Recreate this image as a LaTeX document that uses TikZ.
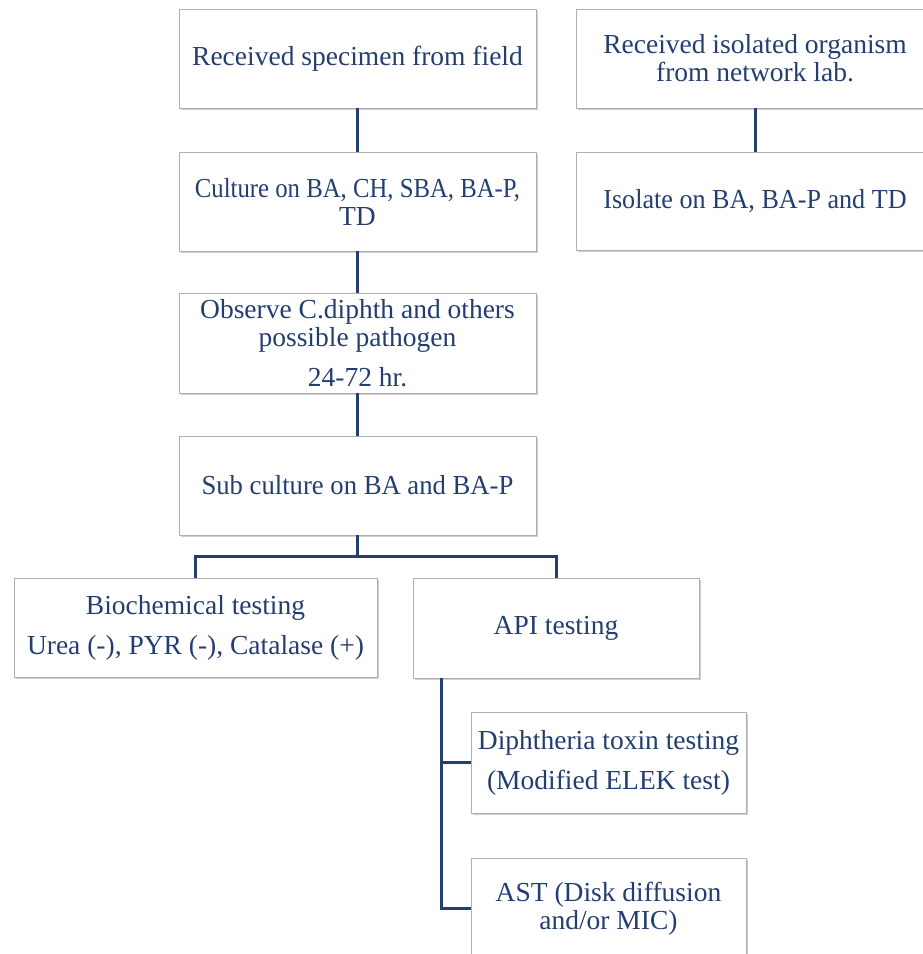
\documentclass[tikz,border=0pt]{standalone}
\usepackage{fontspec}
\setmainfont{Liberation Serif}
\usetikzlibrary{shadows}
\definecolor{ink}{RGB}{36,62,112}
\definecolor{frame}{RGB}{175,175,175}
\newcommand{\narrowed}[2]{{\addfontfeatures{FakeStretch=#1}#2}}
\begin{document}
\begin{tikzpicture}[x=1pt,y=-1pt,
  stepbox/.style={draw=frame, line width=0.9pt, fill=white, text=ink,
    align=center, inner sep=0pt, minimum height=99pt,
    font=\fontsize{27.5}{28}\selectfont,
    drop shadow={shadow xshift=1.5pt, shadow yshift=-2.2pt, opacity=0.35, fill=black!55}},
  link/.style={draw=ink, line width=3pt, line join=miter}]
\useasboundingbox (0,0) rectangle (923,954);
\clip (0,0) rectangle (923,954);

% main column
\node[stepbox, minimum width=357pt] (field) at (357.5,58.5) {Received specimen from field};
\node[stepbox, minimum width=357pt] (culture) at (357.5,201.5) {\narrowed{0.9}{Culture on BA, CH, SBA, BA-P,}\\TD};
\node[stepbox, minimum width=357pt, minimum height=100pt] (observe) at (357.5,343) {Observe C.diphth and others\\possible pathogen\\[12pt]24-72 hr.};
\node[stepbox, minimum width=357pt] (sub) at (357.5,485.5) {\narrowed{0.97}{Sub culture on BA and BA-P}};

% second level
\node[stepbox, minimum width=363pt] (biochem) at (195.5,627.5) {Biochemical testing\\[12pt]Urea (-), PYR (-), Catalase (+)};
\node[stepbox, minimum width=286pt, minimum height=100pt] (api) at (556,628) {API testing};

% API follow-up tests
\node[stepbox, minimum width=275pt, minimum height=101pt] (toxin) at (608.5,762.5) {Diphtheria toxin testing\\[12pt](Modified ELEK test)};
\node[stepbox, minimum width=275pt, minimum height=101pt] (ast) at (608.5,908.5) {AST (Disk diffusion\\and/or MIC)};

% network lab column
\node[stepbox, minimum width=358pt] (network) at (755,58.5) {Received isolated organism\\from network lab.};
\node[stepbox, minimum width=358pt, minimum height=98pt] (isolate) at (755,201) {\narrowed{0.95}{Isolate on BA, BA-P and TD}};

% connectors
\draw[link] (field.south) -- (culture.north);
\draw[link] (culture.south) -- (observe.north);
\draw[link] (observe.south) -- (sub.north);
\draw[link] (network.south) -- (isolate.north);
\coordinate (fork) at ([yshift=-21pt]sub.south);
\draw[link] (sub.south) -- (fork) -| (biochem.north);
\draw[link] (fork) -| (api.north);
\coordinate (trunk) at ([xshift=29pt]api.south west);
\draw[link] (trunk) |- (toxin.west);
\draw[link] (trunk) |- (ast.west);
\end{tikzpicture}
\end{document}
